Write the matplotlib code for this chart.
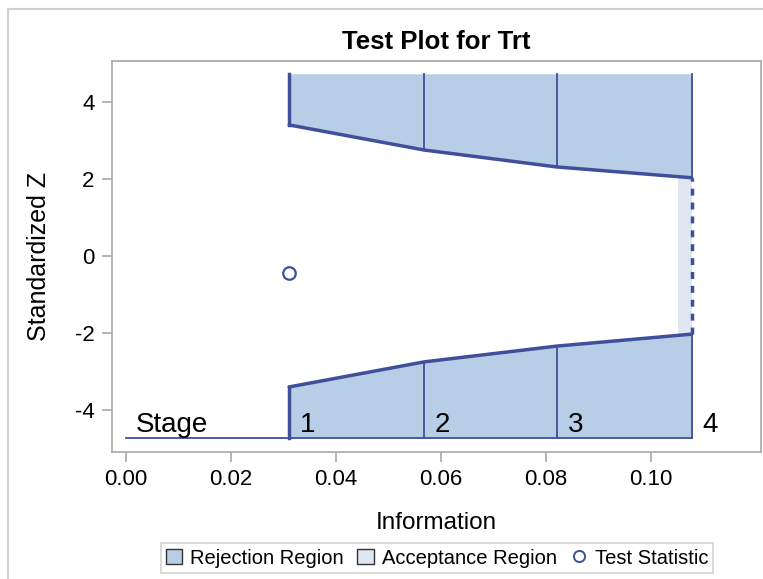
import numpy as np
import matplotlib.pyplot as plt
from matplotlib.patches import Patch, Rectangle
from matplotlib.lines import Line2D

plt.rcParams['font.family'] = ['Liberation Sans', 'DejaVu Sans']
plt.rcParams['axes.unicode_minus'] = False

# stage information levels and boundaries (standardized Z)
info = [0.0311, 0.0568, 0.0821, 0.1078]
upper = [3.40, 2.75, 2.31, 2.03]
lower = [-3.40, -2.75, -2.34, -2.03]
stages = ['1', '2', '3', '4']
accept_start = 0.1051
z_top = 4.73
z_bot = -4.73
test_info = [0.0311]
test_z = [-0.44]

line_c = '#3f4f9a'
rej_c = '#b8cde6'
acc_c = '#dfe7f3'
grid_c = '#a8a8a8'

fig = plt.figure(figsize=(7.63, 5.79), dpi=100)
ax = fig.add_axes([0.1468, 0.2193, 0.8506, 0.6753])

# outer border of the graph
fig.patches.append(Rectangle((8 / 763, -0.1), 1.2, 1 - 9 / 579 + 0.1,
                             transform=fig.transFigure, fill=False,
                             edgecolor='#d0d0d0', lw=1.5))

ax.fill_between(info, upper, z_top, color=rej_c, lw=0)
ax.fill_between(info, lower, z_bot, color=rej_c, lw=0)
ax.fill_between([accept_start, info[-1]], lower[-1], upper[-1], color=acc_c, lw=0)

ax.plot(info, upper, color=line_c, lw=2.5, solid_capstyle='round')
ax.plot(info, lower, color=line_c, lw=2.5, solid_capstyle='round')
ax.plot([info[0], info[0]], [upper[0], z_top], color=line_c, lw=2.5)
ax.plot([info[0], info[0]], [lower[0], z_bot], color=line_c, lw=2.5)
for i in range(1, len(info)):
    ax.plot([info[i], info[i]], [upper[i], z_top], color=line_c, lw=1.3)
    ax.plot([info[i], info[i]], [lower[i], z_bot], color=line_c, lw=1.3)
ax.plot([info[-1], info[-1]], [lower[-1], upper[-1]], color=line_c, lw=2.5,
        ls=(0, (2, 2)))
ax.plot([0, info[-1]], [z_bot, z_bot], color=line_c, lw=1.3)

ax.text(0.0018, z_bot + 0.16, 'Stage', fontsize=20, va='baseline', ha='left')
for x, s in zip(info, stages):
    ax.text(x + 0.0021, z_bot + 0.16, s, fontsize=20, va='baseline', ha='left')

ax.plot(test_info, test_z, 'o', mfc='white', mec=line_c, mew=1.6, ms=9)

ax.set_xlim(-0.00267, 0.121)
ax.set_ylim(-5.09, 5.06)
ax.set_xticks(np.arange(0, 0.11, 0.02))
ax.set_xticklabels(['%.2f' % v for v in np.arange(0, 0.11, 0.02)])
ax.set_yticks([-4, -2, 0, 2, 4])
ax.tick_params(colors=grid_c, labelcolor='black', labelsize=16, length=7.5,
               width=1.2, pad=5)
for s in ax.spines.values():
    s.set_color(grid_c)
    s.set_linewidth(1.2)

ax.set_xlabel('Information', fontsize=17.5, labelpad=15.5)
ax.set_ylabel('Standardized Z', fontsize=18, labelpad=17)
ax.set_title('Test Plot for Trt', fontsize=18.5, fontweight='bold', pad=9)

handles = [Patch(facecolor=rej_c, edgecolor='#333333', label='Rejection Region'),
           Patch(facecolor=acc_c, edgecolor='#333333', label='Acceptance Region'),
           Line2D([], [], marker='o', ls='', mfc='white', mec=line_c, mew=1.4, ms=8,
                  label='Test Statistic')]
leg = fig.legend(handles=handles, loc='center', bbox_to_anchor=(437 / 763, 1 - 558 / 579),
                 ncol=3, fontsize=14.5, frameon=True, fancybox=False, handlelength=0.8,
                 handleheight=0.8, handletextpad=0.4, columnspacing=0.7, borderpad=0.25)
leg.get_frame().set_edgecolor('#c8c8c8')
leg.get_frame().set_linewidth(1.2)

fig.savefig('out.png', dpi=100)
